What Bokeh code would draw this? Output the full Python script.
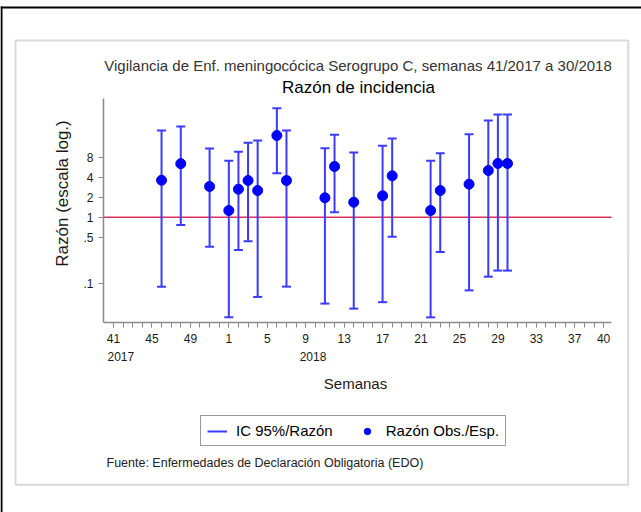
import math
from bokeh.plotting import figure
from bokeh.models import (FixedTicker, CustomJSTickFormatter, Label, BoxAnnotation,
                          Legend, LegendItem, Range1d)
from bokeh.embed import file_html
from bokeh.resources import INLINE

# ---------------- data ----------------
years = [2017, 2017, 2017, 2018, 2018, 2018, 2018, 2018, 2018, 2018,
         2018, 2018, 2018, 2018, 2018, 2018, 2018, 2018, 2018, 2018]
weeks = [46, 48, 51, 1, 2, 3, 4, 6, 7, 11, 12, 14, 17, 18, 22, 23, 26, 28, 29, 30]
ratio = [3.6, 6.4, 2.9, 1.26, 2.64, 3.57, 2.52, 17.0, 3.57, 1.96,
         5.8, 1.68, 2.1, 4.2, 1.26, 2.52, 3.14, 5.05, 6.44, 6.44]
lower = [0.090, 0.76, 0.36, 0.031, 0.32, 0.435, 0.063, 4.6, 0.090, 0.050,
         1.19, 0.042, 0.0525, 0.507, 0.031, 0.30, 0.079, 0.127, 0.157, 0.157]
upper = [20.2, 23.2, 10.8, 7.07, 9.66, 13.2, 14.3, 43.8, 20.2, 10.9,
         17.4, 9.43, 11.9, 15.3, 7.07, 9.2, 17.8, 28.6, 35.2, 35.2]
ref_value = [1]

xtick_years = [2017, 2017, 2017, 2018, 2018, 2018, 2018, 2018, 2018, 2018, 2018, 2018, 2018, 2018]
xtick_weeks = [41, 45, 49, 1, 5, 9, 13, 17, 21, 25, 29, 33, 37, 40]
xtick_labels = [str(w) for w in xtick_weeks]
year_label_text = ["2017", "2018"]
year_label_weeks = [41, 9]

ytick_vals = [0.1, 0.5, 1, 2, 4, 8]
ytick_labels = [".1", ".5", "1", "2", "4", "8"]

FIRST_WEEK = 41
WEEKS_2017 = 52


def week_index(y, w):
    return w - FIRST_WEEK if y == 2017 else w + WEEKS_2017 - FIRST_WEEK


xs = [week_index(y, w) for y, w in zip(years, weeks)]
xtick_pos = [week_index(y, w) for y, w in zip(xtick_years, xtick_weeks)]
year_label_pos = [week_index(2017, year_label_weeks[0]), week_index(2018, year_label_weeks[1])]

# ---------------- layout geometry (pixels) ----------------
W, H = 641, 512
X0_PX, PX_PER_WEEK = 113.0, 9.61      # pixel x of first week, pixels per week
Y1_PX, PX_PER_DEC = 216.7, 66.4       # pixel y of ratio 1, pixels per decade
PLOT_L, PLOT_R, PLOT_T, PLOT_B = 103, 611, 98, 322


def xd(px):
    return (px - X0_PX) / PX_PER_WEEK


def yd(py):
    return 10 ** ((Y1_PX - py) / PX_PER_DEC)


XLO, XHI, YLO, YHI = xd(PLOT_L), xd(PLOT_R), yd(PLOT_B), yd(PLOT_T)

FONT = "Liberation Sans"
EB = "#3b3bff"
DOT = "#0000ff"
AX = "#8a8a8a"
TXT = "#1a1a1a"

p = figure(width=W, height=H, title=None,
           x_range=Range1d(xd(0), xd(W)), y_range=Range1d(yd(H), yd(0)),
           y_axis_type="log", output_backend="svg", toolbar_location=None,
           min_border=0, min_border_left=0, min_border_right=0,
           min_border_top=0, min_border_bottom=0)
p.outline_line_color = None
p.grid.visible = False
p.background_fill_color = "white"
p.border_fill_color = "white"

# x axis
xax = p.xaxis[0]
xax.fixed_location = YLO
xax.bounds = (XLO, XHI)
xax.ticker = FixedTicker(ticks=xtick_pos, minor_ticks=list(range(0, WEEKS_2017)))
xax.formatter = CustomJSTickFormatter(args=dict(pos=xtick_pos, labels=xtick_labels), code="""
    for (let i = 0; i < pos.length; i++) { if (Math.abs(pos[i] - tick) < 1e-6) return labels[i]; }
    return '';
""")
# y axis
yax = p.yaxis[0]
yax.fixed_location = XLO
yax.bounds = (YLO, YHI)
yax.ticker = FixedTicker(ticks=ytick_vals, minor_ticks=[])
yax.formatter = CustomJSTickFormatter(args=dict(pos=ytick_vals, labels=ytick_labels), code="""
    for (let i = 0; i < pos.length; i++) { if (Math.abs(pos[i] - tick) < 1e-6 * pos[i]) return labels[i]; }
    return '';
""")
for ax in (xax, yax):
    ax.axis_line_color = AX
    ax.axis_line_width = 1.5
    ax.major_tick_line_color = AX
    ax.minor_tick_line_color = AX
    ax.major_tick_in = 0
    ax.major_tick_out = 5
    ax.minor_tick_in = 0
    ax.minor_tick_out = 5
    ax.major_label_text_font = FONT
    ax.major_label_text_font_size = "12px"
    ax.major_label_text_color = TXT
xax.major_label_standoff = 6
yax.major_label_standoff = 5

# reference line at ratio 1
p.segment(x0=[XLO], x1=[XHI], y0=ref_value, y1=ref_value, line_color="#d9305e", line_width=1.6)

# error bars and points
seg = p.segment(x0=xs, y0=lower, x1=xs, y1=upper, line_color=EB, line_width=2)
p.scatter(x=xs + xs, y=lower + upper, marker="dash", size=9, line_color=EB, line_width=2)
dots = p.scatter(x=xs, y=ratio, size=10, fill_color=DOT, line_color=DOT)

legend = Legend(items=[LegendItem(label="IC 95%/Razón", renderers=[seg]),
                       LegendItem(label="Razón Obs./Esp.", renderers=[dots])],
                location=(200, H - 446), orientation="horizontal",
                padding=6, spacing=24, glyph_width=20, glyph_height=16,
                label_height=16, label_standoff=9,
                label_text_font=FONT, label_text_font_size="15px", label_text_color="black",
                border_line_color="#333333", border_line_width=1,
                background_fill_color="white", background_fill_alpha=1, margin=0)
p.add_layout(legend, "center")


def lab(text, px, py, size, color=TXT, align="center", angle=0.0):
    p.add_layout(Label(text=text, x=px, y=H - py, x_units="screen", y_units="screen",
                       text_font=FONT, text_font_size=size, text_color=color,
                       text_align=align, text_baseline="middle", angle=angle))


lab("Vigilancia de Enf. meningocócica Serogrupo C, semanas 41/2017 a 30/2018", 357.5, 65, "15px", "#333333")
lab("Razón de incidencia", 358, 87, "17px", "black")
lab("Razón (escala log.)", 62, 193, "17px", angle=math.pi / 2)
lab("Semanas", 355, 383, "15px")
for t, xp in zip(year_label_text, year_label_pos):
    p.add_layout(Label(text=t, x=xp, y=H - 356, x_units="data", y_units="screen", x_offset=-6,
                       text_font=FONT, text_font_size="12px", text_color=TXT,
                       text_align="left", text_baseline="middle"))
lab("Fuente: Enfermedades de Declaración Obligatoria (EDO)", 106, 462, "12.5px", "#222222", align="left")

# frames
p.add_layout(BoxAnnotation(left=15, right=627.7, top=H - 40, bottom=H - 484.3,
                           left_units="screen", right_units="screen",
                           top_units="screen", bottom_units="screen",
                           fill_color=None, line_color="#858585", line_width=2))
p.add_layout(BoxAnnotation(left=0, right=W, top=H - 6, bottom=H - 8,
                           left_units="screen", right_units="screen",
                           top_units="screen", bottom_units="screen",
                           fill_color="black", fill_alpha=1, line_color=None))
p.add_layout(BoxAnnotation(left=0, right=2, top=H - 6, bottom=0,
                           left_units="screen", right_units="screen",
                           top_units="screen", bottom_units="screen",
                           fill_color="black", fill_alpha=1, line_color=None))

open("out.html", "w").write(file_html(p, INLINE))
